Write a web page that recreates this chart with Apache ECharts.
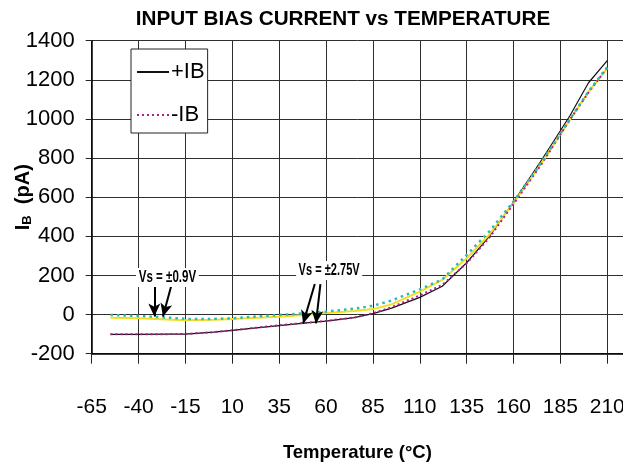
<!DOCTYPE html>
<html>
<head>
<meta charset="utf-8">
<script src="https://cdn.jsdelivr.net/npm/echarts@6/dist/echarts.min.js"></script>
<style>
  html, body { margin: 0; padding: 0; background: #ffffff; }
  #chart { width: 623px; height: 472px; }
</style>
</head>
<body>
<div id="chart"></div>
<script>
// Temperature points (°C) shared by all four curves
const temperatures = [-55, -40, -25, -15, 0, 10, 20, 35, 48, 60, 75, 85, 95, 110, 122, 135, 147, 160, 175, 190, 200, 210];

// Input bias current (pA), supply ±2.75V
const ibPlus275  = [-101, -101, -100, -100, -90, -81, -71, -56, -44, -33, -16, 5, 33, 88, 145, 265, 398, 575, 790, 1015, 1185, 1298];
const ibMinus275 = [-101, -101, -100, -99, -90, -80, -70, -55, -43, -32, -15, 7, 38, 98, 152, 262, 392, 565, 770, 995, 1135, 1262];

// Input bias current (pA), supply ±0.9V
const ibPlus09  = [-16, -19, -25, -29, -26, -22, -17, -11, -2, 8, 18, 28, 52, 117, 177, 288, 407, 570, 775, 995, 1138, 1258];
const ibMinus09 = [-2, -7, -15, -22, -22, -19, -12, -2, 6, 15, 30, 45, 72, 129, 180, 305, 424, 578, 780, 998, 1140, 1265];

const legendNames = ['+IB', '-IB'];
const titleText = 'INPUT BIAS CURRENT vs TEMPERATURE';
const xAxisTitle = 'Temperature (°C)';
const supplyLabels = ['Vs = ±0.9V', 'Vs = ±2.75V'];

// Arrow pointers from the supply labels to the curves: [start, end] in data units
const arrows09  = [[[-31.6, 156], [-31.6, -10]], [[-22.3, 156], [-27.0, -10]]];
const arrows275 = [[[54.0, 156], [47.8, -45]], [[57.0, 156], [54.6, -45]]];

const NARROW = "'Liberation Sans Narrow', 'Arial Narrow', 'Liberation Sans', Arial, sans-serif";
const SANS = "'Liberation Sans', Arial, sans-serif";

const pairs = (vals) => temperatures.map((t, i) => [t, vals[i]]);

function arrowLines(list) {
  return list.map(([a, b]) => [{ coord: a }, { coord: b }]);
}

const chart = echarts.init(document.getElementById('chart'), null, { renderer: 'canvas' });

const option = {
  backgroundColor: '#ffffff',
  animation: false,
  title: {
    text: titleText,
    left: 338,
    top: 4,
    textAlign: 'center',
    textStyle: { fontFamily: SANS, fontWeight: 'bold', fontSize: 20.7, color: '#000' }
  },
  legend: {
    data: legendNames,
    orient: 'vertical',
    left: 131,
    top: 49,
    padding: [12, 3, 7, 5],
    itemWidth: 32,
    itemHeight: 14,
    itemGap: 21,
    backgroundColor: '#ffffff',
    borderColor: '#222',
    borderWidth: 1,
    borderRadius: 0,
    selectedMode: false,
    itemStyle: { opacity: 0 },
    textStyle: { fontFamily: NARROW, fontSize: 22, lineHeight: 22, color: '#000', padding: [0, 0, 0, -3] }
  },
  grid: {
    left: 91.7, top: 40.7, right: 0, bottom: 118.3,
    containLabel: false,
    outerBoundsMode: 'none'
  },
  xAxis: {
    type: 'value',
    min: -65,
    max: 218.4,
    interval: 25,
    name: xAxisTitle,
    nameLocation: 'middle',
    nameGap: 90,
    nameMoveOverlap: false,
    nameTextStyle: { fontFamily: NARROW, fontWeight: 'bold', fontSize: 18.5, color: '#000' },
    axisLine: { onZero: false, lineStyle: { color: '#000', width: 1.5 } },
    axisTick: { show: true, length: 10, inside: false, lineStyle: { color: '#222' } },
    axisLabel: {
      margin: 43,
      fontFamily: NARROW,
      fontSize: 21,
      color: '#000',
      showMaxLabel: false,
      hideOverlap: false,
      formatter: (v) => ((v + 65) % 25 === 0 ? String(v) : '')
    },
    splitLine: { show: true, lineStyle: { color: '#2e2e2e', width: 1 } }
  },
  yAxis: {
    type: 'value',
    min: -200,
    max: 1400,
    interval: 200,
    name: '{i|I}{b|B}{i|  (pA)}',
    nameLocation: 'middle',
    nameGap: 58,
    nameMoveOverlap: false,
    nameRotate: 90,
    nameTextStyle: {
      rich: {
        i: { fontFamily: SANS, fontWeight: 'bold', fontSize: 20, color: '#000' },
        b: { fontFamily: SANS, fontWeight: 'bold', fontSize: 13, color: '#000', padding: [8, 0, 0, 0] }
      }
    },
    axisLine: { show: true, onZero: false, lineStyle: { color: '#000', width: 1.5 } },
    axisTick: { show: true, length: 6, inside: false, lineStyle: { color: '#222' } },
    axisLabel: { margin: 17, fontFamily: NARROW, fontSize: 22, color: '#000', formatter: (v) => String(v) },
    splitLine: { show: true, lineStyle: { color: '#2e2e2e', width: 1 } }
  },
  series: [
    {
      name: '+IB',
      type: 'line',
      data: pairs(ibPlus275),
      symbol: 'none',
      lineStyle: { color: '#111111', width: 1.2 },
      itemStyle: { color: '#111111' },
      z: 2,
      markLine: {
        silent: true,
        symbol: ['none', 'arrow'],
        symbolSize: [9, 13],
        lineStyle: { color: '#000', width: 2, type: 'solid' },
        label: { show: false },
        data: arrowLines(arrows09.concat(arrows275))
      }
    },
    {
      name: '+IB ±0.9V',
      type: 'line',
      data: pairs(ibPlus09),
      symbol: 'none',
      lineStyle: { color: '#f3dd1c', width: 2 },
      itemStyle: { color: '#f3dd1c' },
      z: 2
    },
    {
      name: '-IB',
      type: 'line',
      data: pairs(ibMinus275),
      symbol: 'none',
      lineStyle: { color: '#b01e8c', width: 2, type: [2, 3] },
      itemStyle: { color: '#b01e8c' },
      z: 3
    },
    {
      name: '-IB ±0.9V',
      type: 'line',
      data: pairs(ibMinus09),
      symbol: 'none',
      lineStyle: { color: '#2bb8b8', width: 2.5, type: [2.5, 4] },
      itemStyle: { color: '#2bb8b8' },
      z: 3
    }
  ],
  graphic: [
    {
      type: 'text',
      x: 136,
      y: 268,
      scaleX: 0.68,
      z: 10,
      style: {
        text: supplyLabels[0],
        font: "bold 17px " + SANS,
        fill: '#000',
        backgroundColor: '#fff',
        padding: [1, 4, 1, 4]
      }
    },
    {
      type: 'text',
      x: 296,
      y: 261,
      scaleX: 0.65,
      z: 10,
      style: {
        text: supplyLabels[1],
        font: "bold 17px " + SANS,
        fill: '#000',
        backgroundColor: '#fff',
        padding: [1, 4, 1, 4]
      }
    }
  ]
};

chart.setOption(option);
</script>
</body>
</html>
